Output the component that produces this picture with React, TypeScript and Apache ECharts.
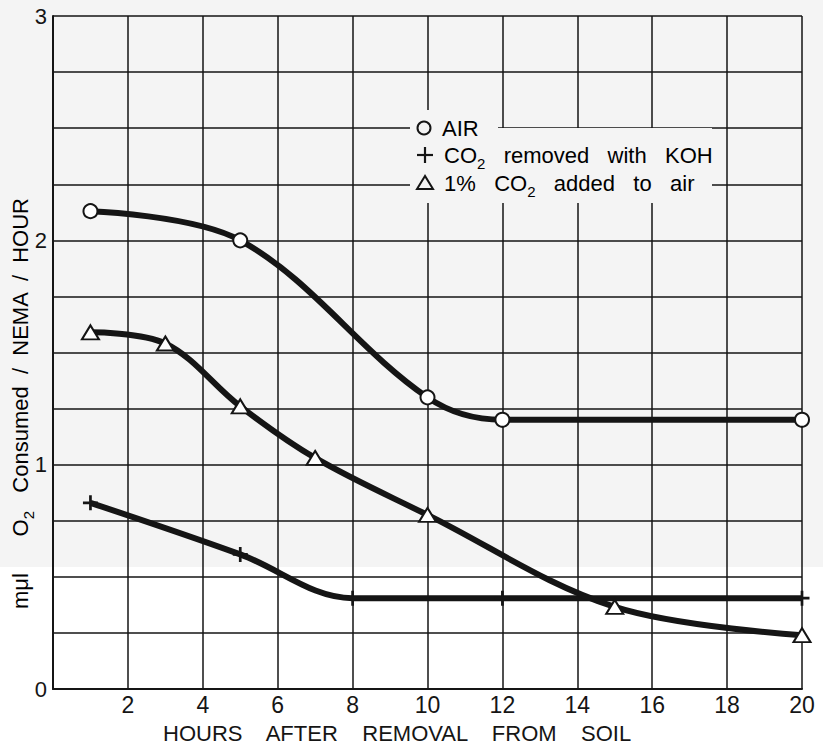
import React, { useEffect, useRef } from "react";
import * as echarts from "echarts";

// Hours after removal from soil (x) and O2 consumption (y)
const airHours = [1, 5, 10, 12, 20];
const airValues = [2.13, 2.0, 1.3, 1.2, 1.2];
const kohHours = [1, 5, 8, 12, 20];
const kohValues = [0.83, 0.6, 0.405, 0.405, 0.405];
const co2Hours = [1, 3, 5, 7, 10, 15, 20];
const co2Values = [1.59, 1.54, 1.26, 1.03, 0.776, 0.366, 0.24];

const xTickLabels = [2, 4, 6, 8, 10, 12, 14, 16, 18, 20];
const yTickLabels = [0, 1, 2, 3];

const FONT = "Liberation Sans";
const INK = "#151515";
const PLUS_PATH = "path://M4.1,0H5.9V4.1H10V5.9H5.9V10H4.1V5.9H0V4.1H4.1Z";

const pairs = (xs: number[], ys: number[]) => xs.map((x, i) => [x, ys[i]]);

const richStyles = {
  n: { fontSize: 22, fontFamily: FONT, color: INK, lineHeight: 32, verticalAlign: "middle" },
  s: { fontSize: 15, fontFamily: FONT, color: INK, lineHeight: 14, verticalAlign: "bottom" },
};

export default function App() {
  const ref = useRef<HTMLDivElement>(null);

  useEffect(() => {
    if (!ref.current) return;
    const chart = echarts.init(ref.current, null, { renderer: "svg" });

    const lineBase = {
      type: "line",
      smooth: 0.35,
      showAllSymbol: true,
      lineStyle: { color: INK, width: 6 },
      z: 3,
    };

    chart.setOption({
      animation: false,
      grid: { left: 53, right: 21, top: 16, bottom: 57, containLabel: false },
      xAxis: {
        type: "value",
        min: 0,
        max: 20,
        interval: 2,
        axisLine: { show: true, lineStyle: { color: INK, width: 2 } },
        axisTick: { show: false },
        axisLabel: {
          margin: 4,
          color: INK,
          fontSize: 23,
          fontFamily: FONT,
          formatter: (v: number) => (xTickLabels.includes(v) ? String(v) : ""),
        },
        splitLine: { show: true, lineStyle: { color: INK, width: 1.5 } },
      },
      yAxis: {
        type: "value",
        min: 0,
        max: 3,
        interval: 0.25,
        axisLine: { show: true, lineStyle: { color: INK, width: 2 } },
        axisTick: { show: false },
        axisLabel: {
          margin: 6,
          color: INK,
          fontSize: 22,
          fontFamily: FONT,
          formatter: (v: number) => (yTickLabels.includes(v) ? String(v) : ""),
        },
        splitLine: { show: true, lineStyle: { color: INK, width: 1.5 } },
      },
      series: [
        {
          ...lineBase,
          name: "AIR",
          data: pairs(airHours, airValues),
          symbol: "circle",
          symbolSize: 14,
          itemStyle: { color: "#ffffff", borderColor: INK, borderWidth: 2 },
        },
        {
          ...lineBase,
          name: "CO2 removed with KOH",
          data: pairs(kohHours, kohValues),
          symbol: PLUS_PATH,
          symbolSize: 15,
          itemStyle: { color: INK, borderWidth: 0 },
        },
        {
          ...lineBase,
          name: "1% CO2 added to air",
          data: pairs(co2Hours, co2Values),
          symbol: "triangle",
          symbolSize: [17, 14],
          itemStyle: { color: "#ffffff", borderColor: INK, borderWidth: 2 },
        },
      ],
      graphic: [
        // legend backing
        { type: "rect", z: 50, shape: { x: 410, y: 110, width: 88, height: 30 }, style: { fill: "#f4f4f4" } },
        { type: "rect", z: 50, shape: { x: 410, y: 128, width: 302, height: 75 }, style: { fill: "#f4f4f4" } },
        // legend symbols
        { type: "circle", z: 51, shape: { cx: 424, cy: 128, r: 6.5 }, style: { fill: "none", stroke: INK, lineWidth: 2 } },
        { type: "line", z: 51, shape: { x1: 417, y1: 155, x2: 433, y2: 155 }, style: { stroke: INK, lineWidth: 2.2 } },
        { type: "line", z: 51, shape: { x1: 425, y1: 147, x2: 425, y2: 163 }, style: { stroke: INK, lineWidth: 2.2 } },
        {
          type: "polygon",
          z: 51,
          shape: { points: [[425, 176], [417, 189], [433, 189]] },
          style: { fill: "none", stroke: INK, lineWidth: 2 },
        },
        // legend texts
        {
          type: "text", z: 52, x: 442, y: 128,
          style: { text: "{n|AIR}", rich: richStyles, align: "left", verticalAlign: "middle" },
        },
        {
          type: "text", z: 52, x: 444, y: 155,
          style: {
            text: "{n|CO}{s|2}{n|   removed   with   KOH}",
            rich: richStyles, align: "left", verticalAlign: "middle",
          },
        },
        {
          type: "text", z: 52, x: 444, y: 183,
          style: {
            text: "{n|1%   CO}{s|2}{n|   added   to   air}",
            rich: richStyles, align: "left", verticalAlign: "middle",
          },
        },
        // x axis title
        {
          type: "text", x: 163, y: 733,
          style: {
            text: "HOURS    AFTER    REMOVAL    FROM    SOIL",
            fontSize: 22, fontFamily: FONT, fill: INK, align: "left", verticalAlign: "middle",
          },
        },
        // y axis title
        {
          type: "text", x: 20, y: 609, rotation: Math.PI / 2,
          style: {
            text: "{n|mμl      O}{s|2}{n|   Consumed  /  NEMA  /  HOUR}",
            rich: richStyles, align: "left", verticalAlign: "middle",
          },
        },
      ],
    });

    return () => chart.dispose();
  }, []);

  return (
    <div
      ref={ref}
      style={{
        position: "fixed",
        left: 0,
        top: 0,
        width: 823,
        height: 746,
        background: "linear-gradient(to bottom, #f4f4f4 0px, #f4f4f4 567px, #ffffff 567px)",
      }}
    />
  );
}
